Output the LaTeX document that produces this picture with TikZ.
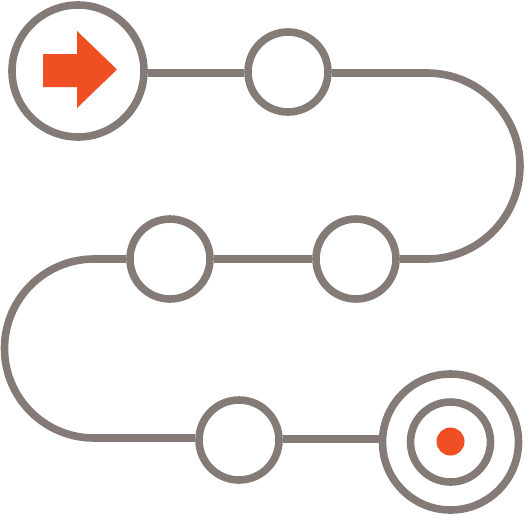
\documentclass[tikz,border=0pt]{standalone}
\begin{document}
\begin{tikzpicture}[x=1pt,y=-1pt,
  stone/.style={draw=pathgray,line width=7.6pt},
  stop/.style={circle,stone,inner sep=0pt,minimum size=80pt,fill=white},
  track/.style={draw=pathgray,line width=7.6pt}]
\definecolor{pathgray}{RGB}{133,123,118}
\definecolor{accent}{RGB}{240,78,35}
\useasboundingbox (0,0) rectangle (526,514);
% nodes
\node[stop,minimum size=132pt] (start) at (78,71) {};
\node[stop] (s2) at (288,72) {};
\node[stop] (s3) at (170,259) {};
\node[stop] (s4) at (356,259) {};
\node[stop] (s5) at (239,440) {};
\node[stop,minimum size=136pt] (goal) at (450.5,442) {};
\node[stop,minimum size=80pt] (goalin) at (450.5,442) {};
\fill[accent] (450.5,441.5) circle[radius=14pt];
% arrow
\fill[accent] (43,54)--(77,54)--(77,31)--(117,69.5)--(77,108)--(77,87)--(43,87)--cycle;
% connectors
\coordinate (tr) at (427,73);
\coordinate (ml) at (94,259);
\draw[track] (start.east|-0,73) -- (s2.west|-0,73);
\draw[track] (s2.east|-0,73) -- (tr) arc[start angle=90,end angle=-90,radius=93pt] -- (s4.east);
\draw[track] (s4.west) -- (s3.east);
\draw[track] (s3.west) -- (ml) arc[start angle=90,end angle=270,radius=89.5pt] -- (s5.west|-0,438);
\draw[track] (s5.east|-0,439) -- (goal.west|-0,439);
\end{tikzpicture}
\end{document}
